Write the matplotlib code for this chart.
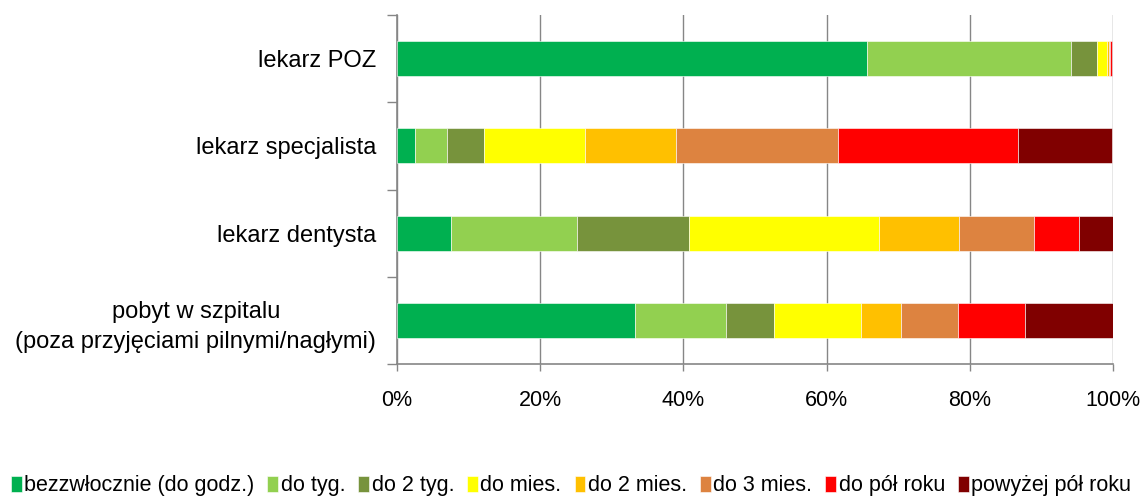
import numpy as np
import matplotlib.pyplot as plt
from matplotlib.ticker import FixedLocator, PercentFormatter

plt.rcParams['font.family'] = ['Liberation Sans', 'DejaVu Sans']

# ---------------------------------------------------------
# Data (percent of answers per waiting time)
# ---------------------------------------------------------
categories = ["lekarz POZ", "lekarz specjalista", "lekarz dentysta",
              "pobyt w szpitalu\n(poza przyjęciami pilnymi/nagłymi)"]
series_names = ["bezzwłocznie (do godz.)", "do tyg.", "do 2 tyg.", "do mies.",
                "do 2 mies.", "do 3 mies.", "do pół roku", "powyżej pół roku"]

bezzwlocznie = [65.6, 2.5, 7.6, 33.2]
do_tyg = [28.6, 4.5, 17.6, 12.7]
do_2_tyg = [3.6, 5.1, 15.6, 6.7]
do_mies = [1.4, 14.1, 26.5, 12.2]
do_2_mies = [0.3, 12.7, 11.2, 5.6]
do_3_mies = [0.1, 22.7, 10.5, 8.0]
do_pol_roku = [0.3, 25.1, 6.3, 9.3]
powyzej_pol_roku = [0.1, 13.2, 4.7, 12.4]

colors = ["#00B050", "#92D050", "#77933C", "#FFFF00",
          "#FFC000", "#DD8340", "#FF0000", "#800000"]

series = [bezzwlocznie, do_tyg, do_2_tyg, do_mies,
          do_2_mies, do_3_mies, do_pol_roku, powyzej_pol_roku]

fig = plt.figure(figsize=(11.42, 5.03), dpi=100)
ax = fig.add_axes([397 / 1142, 1 - 364 / 503, (1113 - 397) / 1142, (364 - 15) / 503])

y = np.arange(len(categories))
left = np.zeros(len(categories))
for name, vals, col in zip(series_names, series, colors):
    vals = np.array(vals)
    ax.barh(y, vals, left=left, height=0.4, color=col, label=name,
            edgecolor="white", linewidth=0.4, zorder=3)
    left += vals

ax.set_xlim(0, 100)
ax.set_ylim(len(categories) - 0.5, -0.5)

grid_c = "#868686"
ax.xaxis.set_major_locator(FixedLocator([0, 20, 40, 60, 80, 100]))
ax.xaxis.set_major_formatter(PercentFormatter(decimals=0))
ax.grid(axis="x", color=grid_c, linewidth=1.0, zorder=0)
ax.tick_params(axis="x", length=5, width=1, color=grid_c, labelsize=15.5, pad=14)

ax.set_yticks(y)
ax.set_yticklabels(categories, fontsize=17, linespacing=1.5)
ax.yaxis.set_minor_locator(FixedLocator(np.arange(-0.5, len(categories), 1.0)))
ax.tick_params(axis="y", which="major", length=0, pad=15)
ax.tick_params(axis="y", which="minor", length=7, width=1, color=grid_c)
for lab in ax.get_yticklabels():
    lab.set_multialignment("center")

for side in ["top", "right"]:
    ax.spines[side].set_visible(False)
for side in ["left", "bottom"]:
    ax.spines[side].set_color(grid_c)
    ax.spines[side].set_linewidth(1.2)

fig.legend(loc="lower center", bbox_to_anchor=(0.5, -0.025), ncol=8, frameon=False,
           fontsize=15.5, handlelength=0.5, handleheight=0.75, handletextpad=0.12,
           columnspacing=0.6)

fig.savefig("out.png", dpi=100)
